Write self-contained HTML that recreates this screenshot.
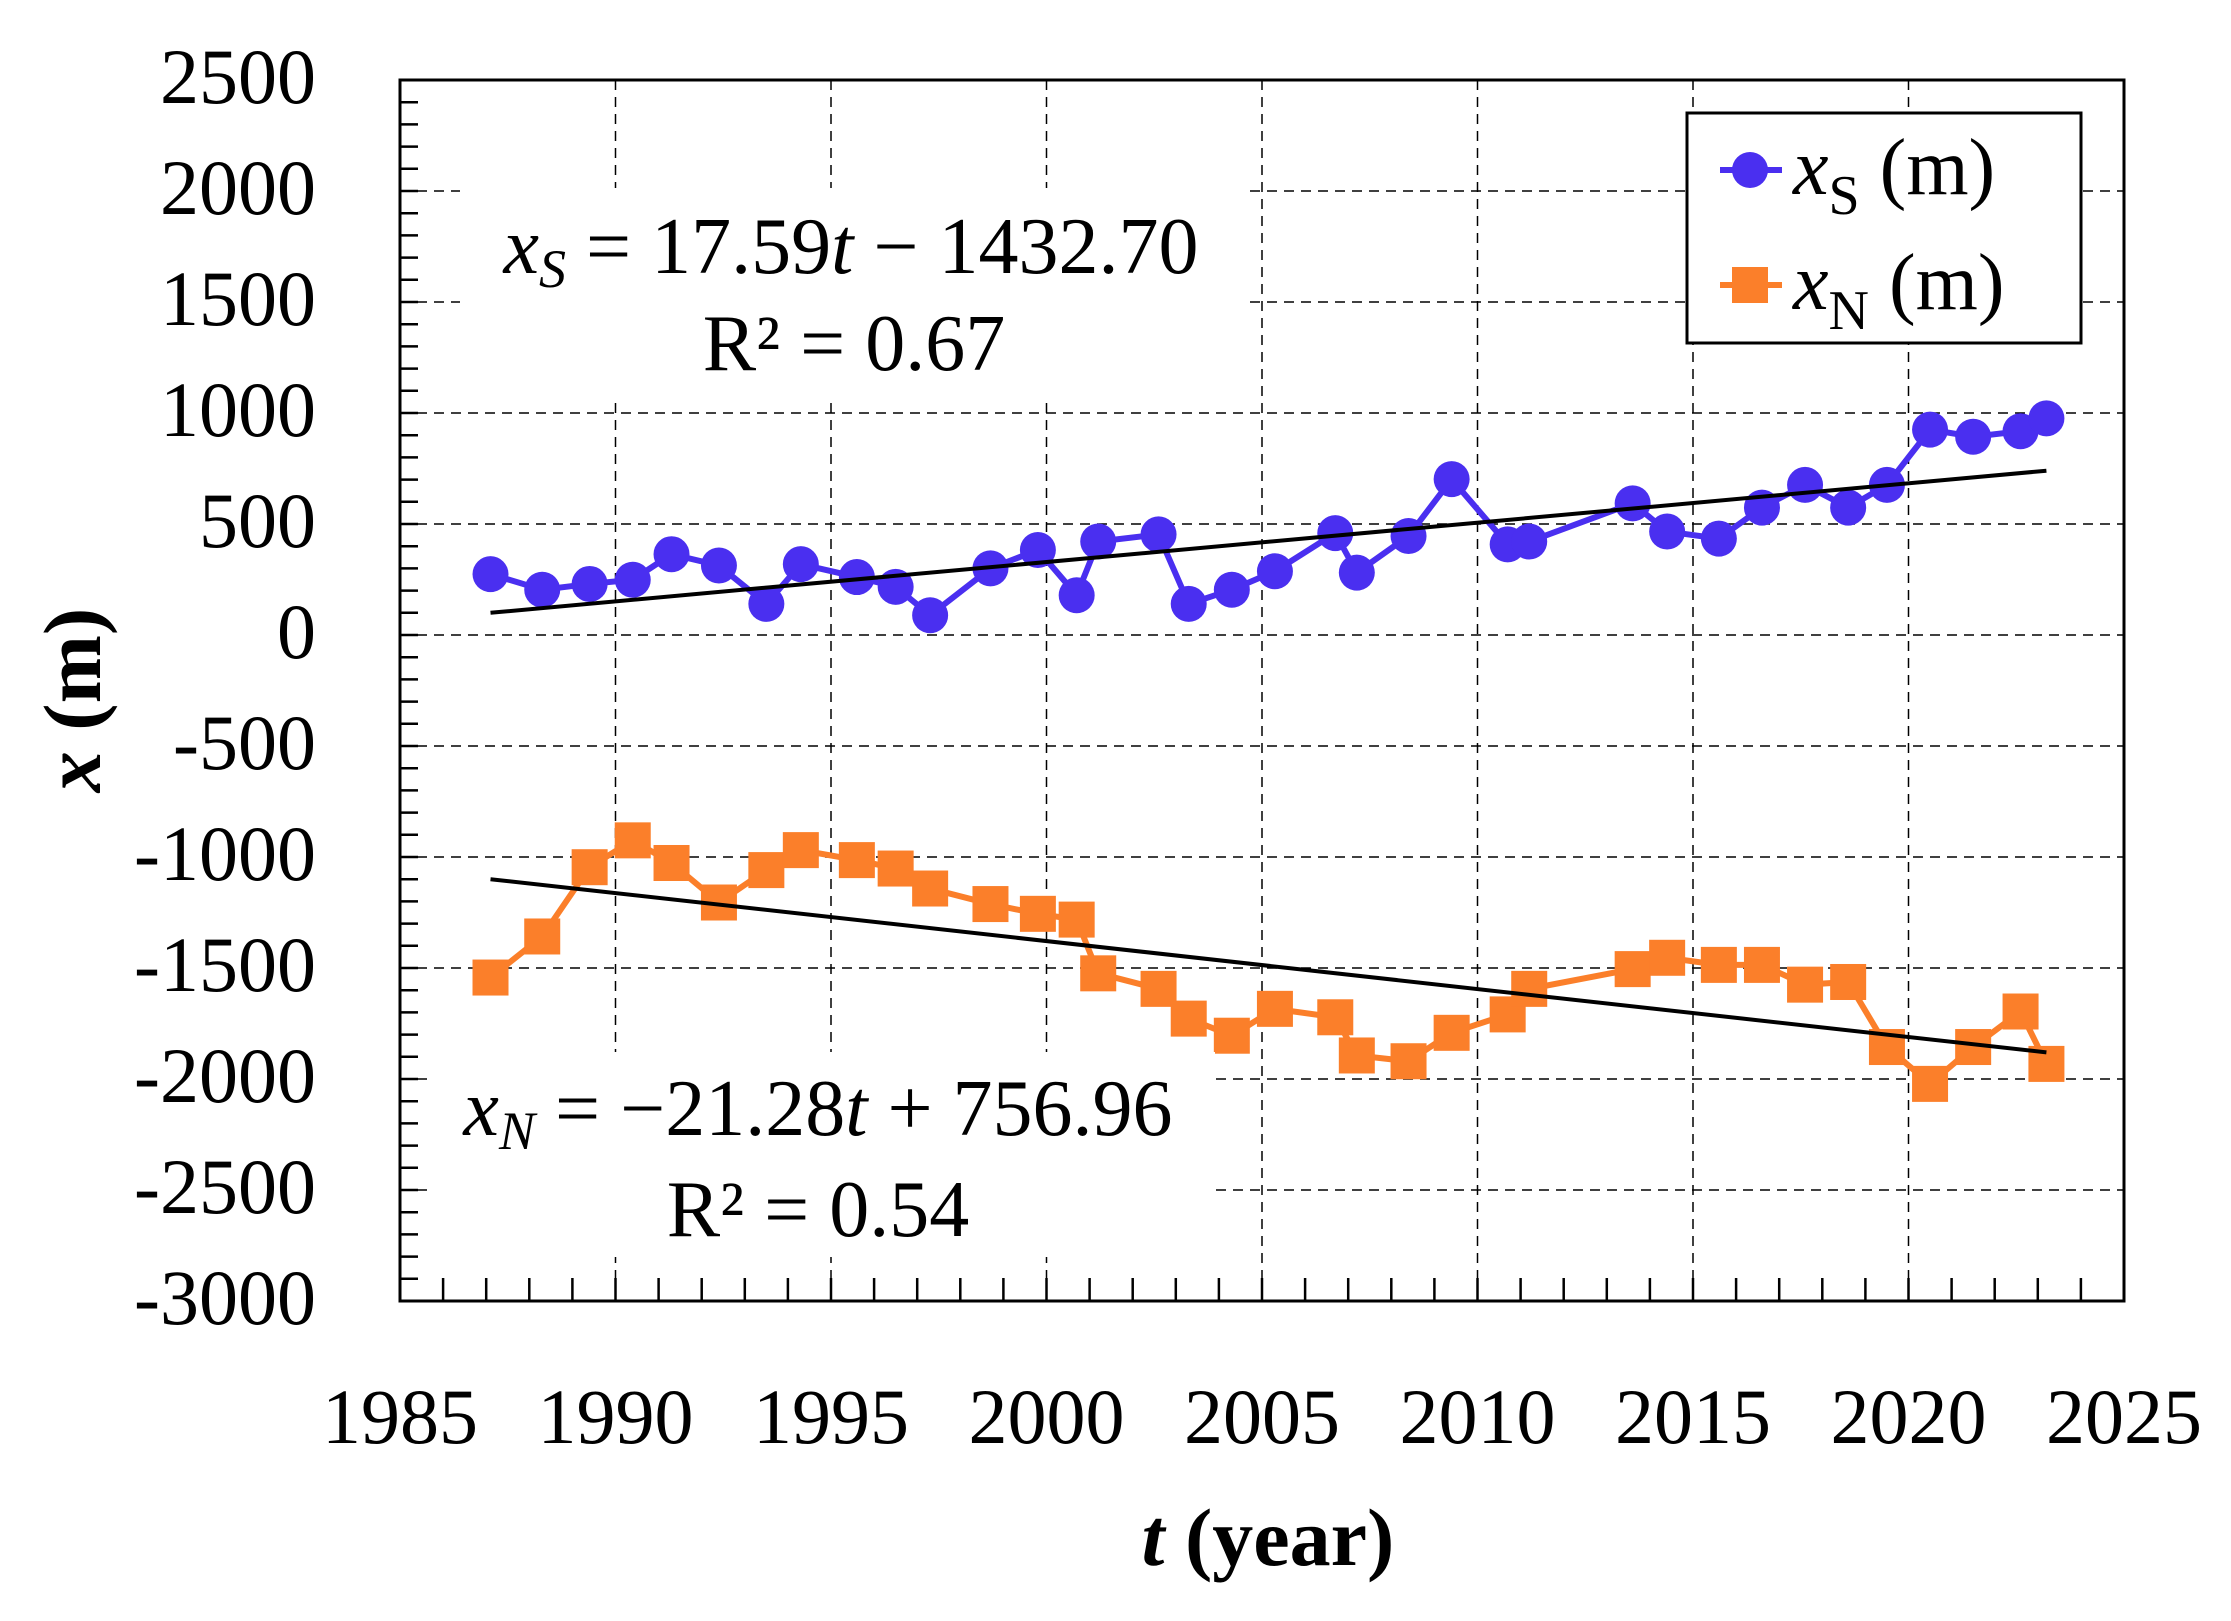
<!DOCTYPE html>
<html><head><meta charset="utf-8"><style>
html,body{margin:0;padding:0;background:#fff;}
svg{display:block;font-family:"Liberation Serif",serif;}
</style></head><body>
<svg id="chart" width="2231" height="1621" viewBox="0 0 2231 1621" xmlns="http://www.w3.org/2000/svg">
<g id="grid"></g>
<g id="ticks"></g>
<g id="marks"></g>
<rect x="460" y="188" width="790" height="210" fill="#fff"/>
<rect x="430" y="1052" width="785" height="205" fill="#fff"/>
<text x="851" y="273" font-size="80" text-anchor="middle"><tspan font-style="italic">x</tspan><tspan font-style="italic" font-size="54" dy="14">S</tspan><tspan dy="-14"> = 17.59</tspan><tspan font-style="italic">t</tspan> − 1432.70</text>
<text x="854" y="370" font-size="80" text-anchor="middle">R² = 0.67</text>
<text x="818" y="1135" font-size="80" text-anchor="middle"><tspan font-style="italic">x</tspan><tspan font-style="italic" font-size="54" dy="14">N</tspan><tspan dy="-14"> = −21.28</tspan><tspan font-style="italic">t</tspan> + 756.96</text>
<text x="818" y="1236" font-size="80" text-anchor="middle">R² = 0.54</text>
<rect x="400" y="80" width="1724" height="1221" fill="none" stroke="#000" stroke-width="3"/>
<g>
<rect x="1687" y="113" width="394" height="230" fill="#fff" stroke="#000" stroke-width="3"/>
<line x1="1720" y1="170" x2="1782" y2="170" stroke="#4a2ff0" stroke-width="6"/>
<circle cx="1750" cy="170" r="18" fill="#4a2ff0"/>
<text x="1793" y="194" font-size="80"><tspan font-style="italic">x</tspan><tspan font-size="56" dy="20">S</tspan><tspan dy="-20"> (m)</tspan></text>
<line x1="1720" y1="285" x2="1782" y2="285" stroke="#fb7f2a" stroke-width="6"/>
<rect x="1732" y="267" width="36" height="36" fill="#fb7f2a"/>
<text x="1793" y="309" font-size="80"><tspan font-style="italic">x</tspan><tspan font-size="56" dy="20">N</tspan><tspan dy="-20"> (m)</tspan></text>
</g>
<text x="1268" y="1565" font-size="82" font-weight="bold" text-anchor="middle"><tspan font-style="italic">t</tspan> (year)</text>
<text transform="translate(100,700) rotate(-90)" font-size="82" font-weight="bold" text-anchor="middle"><tspan font-style="italic">x</tspan> (m)</text>
</svg>
<script>
const yearsS=[1987.1,1988.3,1989.4,1990.4,1991.3,1992.4,1993.5,1994.3,1995.6,1996.5,1997.3,1998.7,1999.8,2000.7,2001.2,2002.6,2003.3,2004.3,2005.3,2006.7,2007.2,2008.4,2009.4,2010.7,2011.2,2013.6,2014.4,2015.6,2016.6,2017.6,2018.6,2019.5,2020.5,2021.5,2022.6,2023.2];
const valuesS=[274,204,230,249,364,313,140,319,261,217,89,300,383,179,421,453,140,204,287,459,281,446,702,408,421,593,466,434,574,676,574,676,925,893,918,976];
const valuesN=[-1543,-1358,-1046,-925,-1027,-1205,-1059,-969,-1014,-1052,-1142,-1212,-1256,-1282,-1524,-1594,-1728,-1805,-1684,-1722,-1894,-1920,-1792,-1709,-1594,-1505,-1454,-1486,-1486,-1575,-1563,-1856,-2022,-1856,-1696,-1932];
const trendYears=[1987.1,2023.2];
const trendS=[100,740];
const trendN=[-1100,-1880];
const xTicks=[1985,1990,1995,2000,2005,2010,2015,2020,2025];
const yTicks=[2500,2000,1500,1000,500,0,-500,-1000,-1500,-2000,-2500,-3000];

const NS='http://www.w3.org/2000/svg';
const X=t=>400+(t-1985)*(1724/40);
const Y=v=>635-v*(1221/5500);
function mk(tag,attrs,parent){const e=document.createElementNS(NS,tag);for(const k in attrs)e.setAttribute(k,attrs[k]);parent.appendChild(e);return e;}
const grid=document.getElementById('grid'),ticks=document.getElementById('ticks'),marks=document.getElementById('marks'),svg=document.getElementById('chart');
xTicks.forEach(t=>{
  if(t>1985&&t<2025){const l=mk('line',{x1:X(t),y1:80,x2:X(t),y2:1301,stroke:'#000','stroke-width':1.5,'stroke-dasharray':'10,7'},grid);
  
  }
  const tx=mk('text',{x:X(t),y:1443,'font-size':78,'text-anchor':'middle'},svg);tx.textContent=t;
  
  
});
yTicks.forEach(v=>{
  if(v<2500&&v>-3000){const l=mk('line',{x1:400,y1:Y(v),x2:2124,y2:Y(v),stroke:'#000','stroke-width':1.5,'stroke-dasharray':'10,7'},grid);
  
  }
  const tx=mk('text',{x:316,y:Y(v)+23,'font-size':78,'text-anchor':'end'},svg);tx.textContent=v;
  
  
});
for(let v=-3000;v<=2500;v+=100){const l=mk('line',{x1:400,y1:Y(v),x2:418,y2:Y(v),stroke:'#000','stroke-width':2.5},ticks);
  
  }
for(let t=1985;t<=2025;t++){const l=mk('line',{x1:X(t),y1:1301,x2:X(t),y2:1278,stroke:'#000','stroke-width':2.5},ticks);
  
  }
function poly(xs,vs,color,name){const p=mk('polyline',{points:xs.map((t,i)=>X(t)+','+Y(vs[i])).join(' '),fill:'none',stroke:color,'stroke-width':6},marks);
  
  }
poly(yearsS,valuesS,'#4a2ff0','series-s-line');
poly(yearsS,valuesN,'#fb7f2a','series-n-line');
yearsS.forEach((t,i)=>{
  const c=mk('circle',{cx:X(t),cy:Y(valuesS[i]),r:18,fill:'#4a2ff0'},marks);
  
  
  const r=mk('rect',{x:X(t)-18,y:Y(valuesN[i])-18,width:36,height:36,fill:'#fb7f2a'},marks);
  
  
});
function trend(vs,name){const l=mk('line',{x1:X(trendYears[0]),y1:Y(vs[0]),x2:X(trendYears[1]),y2:Y(vs[1]),stroke:'#000','stroke-width':4},marks);
  
  }
trend(trendS,'trend-line-s');
trend(trendN,'trend-line-n');
</script>
</body></html>
